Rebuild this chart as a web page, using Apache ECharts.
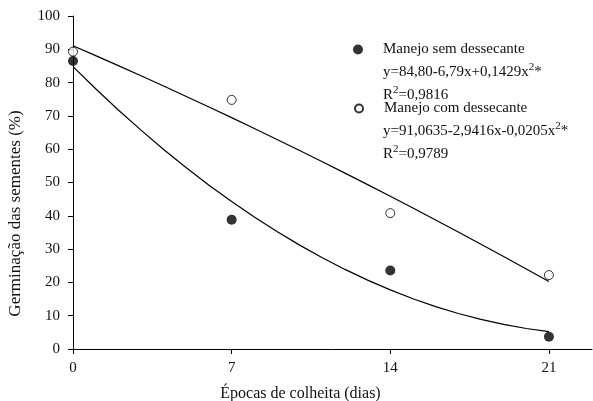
<!DOCTYPE html>
<html>
<head>
<meta charset="utf-8">
<script src="https://cdn.jsdelivr.net/npm/echarts@6/dist/echarts.min.js"></script>
<style>html,body{margin:0;padding:0;background:#fff}#c{width:593px;height:401px}</style>
</head>
<body>
<div id="c"></div>
<script>
// Observed data
var epocas = [0, 7, 14, 21];
var semDessecante = [86.5, 38.8, 23.6, 3.7];
var comDessecante = [89.3, 74.8, 40.8, 22.2];
// Fitted curves
var curveX = [0,1,2,3,4,5,6,7,8,9,10,11,12,13,14,15,16,17,18,19,20,21];
var curveSem = [84.80,78.15,71.79,65.72,59.93,54.42,49.20,44.27,39.63,35.27,31.19,27.40,23.90,20.68,17.75,15.10,12.74,10.67,8.88,7.38,6.16,5.23];
var curveCom = [91.06,88.10,85.10,82.05,78.97,75.84,72.68,69.47,66.22,62.93,59.60,56.23,52.81,49.36,45.86,42.33,38.75,35.13,31.47,27.77,24.03,20.25];
var xTicks = [0, 7, 14, 21];
var yTicks = [0,10,20,30,40,50,60,70,80,90,100];
var names = ['Manejo sem dessecante', 'Manejo com dessecante'];

function pairs(xs, ys){ return xs.map(function(x,i){ return [x, ys[i]]; }); }

var F = '"Liberation Serif", "Times New Roman", serif';
var chart = echarts.init(document.getElementById('c'));
var txt = {fontFamily: F, fontSize: 15, color: '#111'};
var rich = {sup: {fontFamily: F, fontSize: 11, color: '#111', verticalAlign: 'top', padding: [0,0,9,0]}};
var legTxt = {fontFamily: F, fontSize: 15, color: '#111', padding: [0,0,0,15]};
chart.setOption({
  animation: false,
  backgroundColor: '#fff',
  grid: {left: 73, right: 1, top: 16, bottom: 52, outerBoundsMode: 'none', containLabel: false},
  xAxis: {
    type: 'value', min: 0, max: 22.9,
    name: 'Épocas de colheita (dias)', nameLocation: 'middle', nameGap: 37,
    nameTextStyle: {fontFamily: F, fontSize: 16, color: '#111', padding: [0, 64, 0, 0]},
    axisLine: {show: true, onZero: false, lineStyle: {color: '#000', width: 1}},
    axisTick: {show: true, length: 5, lineStyle: {color: '#000'}, customValues: xTicks},
    axisLabel: Object.assign({margin: 12, customValues: xTicks}, txt),
    splitLine: {show: false}
  },
  yAxis: {
    type: 'value', min: 0, max: 100, interval: 10,
    name: 'Germinação das sementes (%)', nameLocation: 'middle', nameGap: 49,
    nameTextStyle: {fontFamily: F, fontSize: 17, color: '#111', padding: [0, 62, 0, 0]},
    axisLine: {show: true, lineStyle: {color: '#000', width: 1}},
    axisTick: {show: true, length: 5, lineStyle: {color: '#000'}},
    axisLabel: Object.assign({margin: 13}, txt),
    splitLine: {show: false}
  },
  legend: [
    {data: [names[0]], left: 353, top: 42, itemWidth: 10, itemHeight: 10, itemGap: 0,
     textStyle: legTxt, icon: 'circle', padding: 0},
    {data: [names[1]], left: 354, top: 101, itemWidth: 8, itemHeight: 8, itemGap: 0,
     textStyle: Object.assign({}, legTxt, {padding: [0,0,0,16]}), icon: 'circle', padding: 0}
  ],
  graphic: [
    {type: 'text', left: 383, top: 62, style: {text: 'y=84,80-6,79x+0,1429x{sup|2}*', font: '15px ' + F, fill: '#111', rich: rich}},
    {type: 'text', left: 383, top: 85, style: {text: 'R{sup|2}=0,9816', font: '15px ' + F, fill: '#111', rich: rich}},
    {type: 'text', left: 383, top: 121, style: {text: 'y=91,0635-2,9416x-0,0205x{sup|2}*', font: '15px ' + F, fill: '#111', rich: rich}},
    {type: 'text', left: 383, top: 144, style: {text: 'R{sup|2}=0,9789', font: '15px ' + F, fill: '#111', rich: rich}}
  ],
  series: [
    {type: 'line', data: pairs(curveX, curveSem), showSymbol: false, symbol: 'none',
     lineStyle: {color: '#000', width: 1.2}, z: 2, silent: true},
    {type: 'line', data: pairs(curveX, curveCom), showSymbol: false, symbol: 'none',
     lineStyle: {color: '#000', width: 1.2}, z: 2, silent: true},
    {name: names[0], type: 'scatter', data: pairs(epocas, semDessecante), symbol: 'circle', symbolSize: 10,
     itemStyle: {color: '#000'}, z: 5},
    {name: names[1], type: 'scatter', data: pairs(epocas, comDessecante), symbol: 'circle', symbolSize: 9,
     itemStyle: {color: '#fff', borderColor: '#000', borderWidth: 1}, z: 5}
  ]
});
</script>
</body>
</html>
